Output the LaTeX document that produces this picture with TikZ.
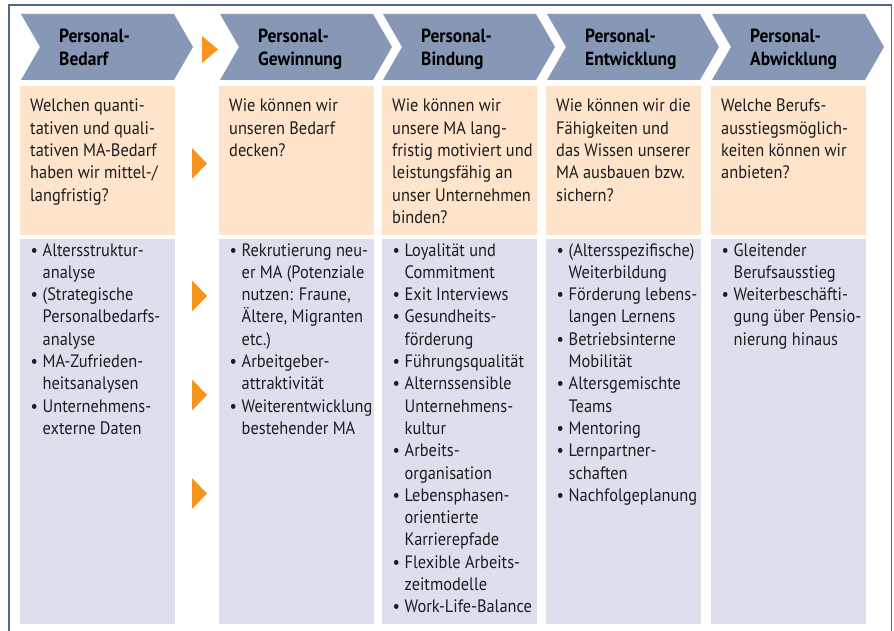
\documentclass[tikz,border=0pt]{standalone}
\usepackage{fontspec}
\newfontfamily\bodyfont{PT Sans}[FakeStretch=0.91]
\newfontfamily\headfont{PT Sans}[FakeStretch=0.92]
\definecolor{chevblue}{RGB}{134,152,182}
\definecolor{peach}{RGB}{253,228,202}
\definecolor{lav}{RGB}{221,224,236}
\definecolor{arrorange}{RGB}{247,148,29}
\definecolor{framecol}{RGB}{80,104,140}
\definecolor{textgray}{RGB}{30,28,30}
\newcommand\colbox[1]{\vtop{\hsize=240pt\parindent=0pt\parskip=0pt\raggedright\baselineskip=22.3pt\relax#1\par}}
\newcommand\bul{\leavevmode\llap{\makebox[12pt][l]{\textbullet}}}
\newcommand\chev[1]{\fill[chevblue] (#1,14) -- (#1+153,14) -- (#1+172,47) -- (#1+153,80) -- (#1,80) -- (#1+19,47) -- cycle;}
\begin{document}
\begin{tikzpicture}[x=1pt,y=-1pt,
  txt/.style={anchor=base west, inner sep=0pt, text=textgray, font=\bodyfont\fontsize{18}{22.3}\selectfont},
  head/.style={anchor=base west, inner sep=0pt, text=black, font=\headfont\bfseries\fontsize{19}{22}\selectfont}]
\useasboundingbox (0,0) rectangle (894,631);
% frame
\draw[framecol, line width=1.5pt] (9,640) -- (9,5) -- (891.5,5) -- (891.5,640);
% chevrons
\chev{21}\chev{220}\chev{383}\chev{547}\chev{712}
% boxes
\foreach \L in {20,219,382,546,711}{
  \fill[peach] (\L,86) rectangle (\L+155,235);
  \fill[lav] (\L,239) rectangle (\L+155,624);
}
% orange triangles
\fill[arrorange] (202,36) -- (218,49.5) -- (202,63) -- cycle;
\foreach \c in {163.5,296,395,493.5}{
  \fill[arrorange] (192,\c-15.5) -- (207,\c) -- (192,\c+15.5) -- cycle;
}
% headers
\node[head] (h1) at (59,43) {\colbox{Personal-\\Bedarf}};
\node[head] (h2) at (258,43) {\colbox{Personal-\\Gewinnung}};
\node[head] (h3) at (421,43) {\colbox{Personal-\\Bindung}};
\node[head] (h4) at (585,43) {\colbox{Personal-\\Entwicklung}};
\node[head] (h5) at (750,43) {\colbox{Personal-\\Abwicklung}};
% questions
\node[txt] (q1) at (30,112) {\colbox{Welchen quanti-\\tativen und quali-\\tativen MA-Bedarf\\haben wir mittel-/\\langfristig?}};
\node[txt] (q2) at (229,112) {\colbox{Wie können wir\\unseren Bedarf\\decken?}};
\node[txt] (q3) at (392,112) {\colbox{Wie können wir\\unsere MA lang-\\fristig motiviert und\\leistungsfähig an\\unser Unternehmen\\binden?}};
\node[txt] (q4) at (556,112) {\colbox{Wie können wir die\\Fähigkeiten und\\das Wissen unserer\\MA ausbauen bzw.\\sichern?}};
\node[txt] (q5) at (721,112) {\colbox{Welche Berufs-\\ausstiegsmöglich-\\keiten können wir\\anbieten?}};
% lists
\node[txt] (l1) at (42.5,256) {\colbox{\bul Altersstruktur-\\analyse\\\bul (Strategische\\Personalbedarfs-\\analyse\\\bul MA-Zufrieden-\\heitsanalysen\\\bul Unternehmens-\\externe Daten}};
\node[txt] (l2) at (241.5,256) {\colbox{\bul Rekrutierung neu-\\er MA (Potenziale\\nutzen: Fraune,\\Ältere, Migranten\\etc.)\\\bul Arbeitgeber-\\attraktivität\\\bul Weiterentwicklung\\bestehender MA}};
\node[txt] (l3) at (404.5,256) {\colbox{\bul Loyalität und\\Commitment\\\bul Exit Interviews\\\bul Gesundheits-\\förderung\\\bul Führungsqualität\\\bul Alternssensible\\Unternehmens-\\kultur\\\bul Arbeits-\\organisation\\\bul Lebensphasen-\\orientierte\\Karrierepfade\\\bul Flexible Arbeits-\\zeitmodelle\\\bul Work-Life-Balance}};
\node[txt] (l4) at (568.5,256) {\colbox{\bul (Altersspezifische)\\Weiterbildung\\\bul Förderung lebens-\\langen Lernens\\\bul Betriebsinterne\\Mobilität\\\bul Altersgemischte\\Teams\\\bul Mentoring\\\bul Lernpartner-\\schaften\\\bul Nachfolgeplanung}};
\node[txt] (l5) at (733.5,256) {\colbox{\bul Gleitender\\Berufsausstieg\\\bul Weiterbeschäfti-\\gung über Pensio-\\nierung hinaus}};
\end{tikzpicture}
\end{document}
